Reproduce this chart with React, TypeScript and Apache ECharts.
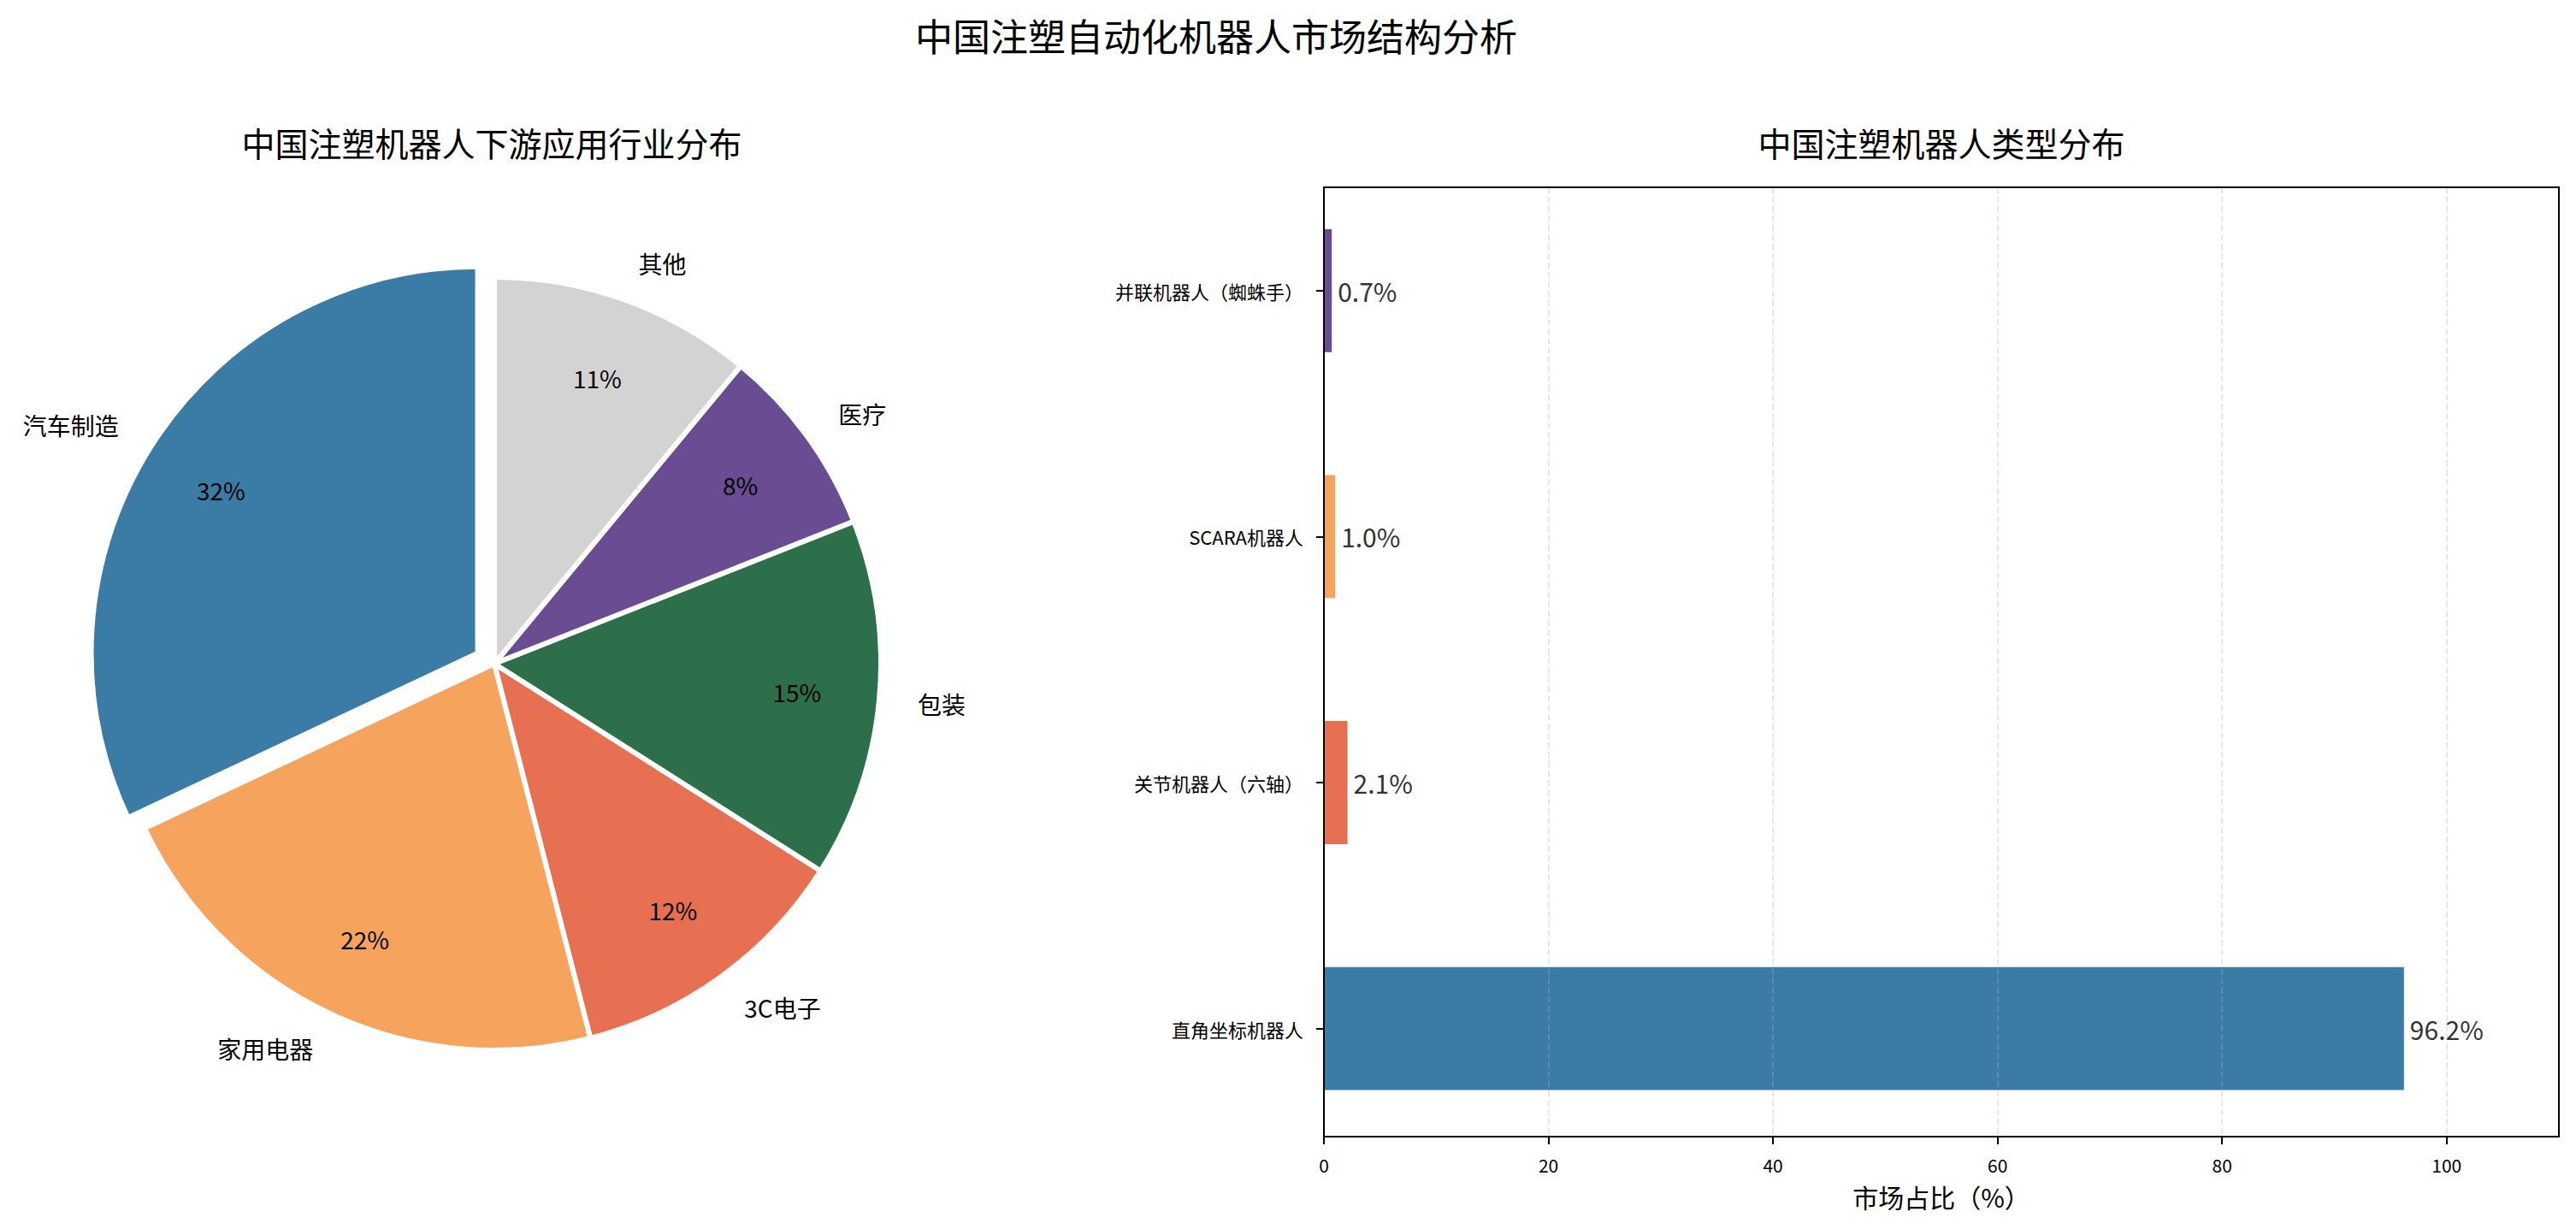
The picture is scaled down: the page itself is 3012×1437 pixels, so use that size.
import * as echarts from 'echarts'
import { useEffect, useRef } from 'react'

const FONT = '"Noto Sans CJK SC", "Noto Sans", sans-serif'

// 左：下游应用行业（%）
const industryNames = ['汽车制造', '家用电器', '3C电子', '包装', '医疗', '其他']
const industryValues = [32, 22, 12, 15, 8, 11]
const industryColors = ['#3B7CA6', '#F6A45D', '#E77052', '#2D6E4B', '#6A4C93', '#D3D3D3']

// 右：机器人类型（%），自下而上
const robotTypes = ['直角坐标机器人', '关节机器人（六轴）', 'SCARA机器人', '并联机器人（蜘蛛手）']
const robotShares = [96.2, 2.1, 1.0, 0.7]
const robotColors = ['#3B7CA6', '#E77052', '#F6A45D', '#6A4C93']

const xTicks = [0, 20, 40, 60, 80, 100]

const PIE_R = 452

export default function App() {
  const ref = useRef<HTMLDivElement>(null)

  useEffect(() => {
    if (!ref.current) return
    document.body.style.margin = '0'
    const chart = echarts.init(ref.current, undefined, { renderer: 'svg' })

    const pieData = industryNames.map((name, i) => ({
      name,
      value: industryValues[i],
      selected: i === 0,
      itemStyle: { color: industryColors[i] },
    }))

    chart.setOption({
      animation: false,
      backgroundColor: '#ffffff',
      textStyle: { fontFamily: FONT },
      graphic: [
        {
          type: 'text',
          x: 1422,
          y: 41,
          style: { text: '中国注塑自动化机器人市场结构分析', fontSize: 44, fontFamily: FONT, fill: '#000', align: 'center', verticalAlign: 'middle' },
        },
        {
          type: 'text',
          x: 575,
          y: 166,
          style: { text: '中国注塑机器人下游应用行业分布', fontSize: 39, fontFamily: FONT, fill: '#000', align: 'center', verticalAlign: 'middle' },
        },
        {
          type: 'text',
          x: 2270,
          y: 166,
          style: { text: '中国注塑机器人类型分布', fontSize: 39, fontFamily: FONT, fill: '#000', align: 'center', verticalAlign: 'middle' },
        },
      ],
      grid: [
        // 类目带宽用（柱子与 y 轴刻度）
        { left: 1548, top: 196, width: 1444, height: 1150.4, show: false },
        // 外框 + x 轴
        { left: 1548, top: 219, width: 1444, height: 1110, show: true, z: 10, borderColor: '#000', borderWidth: 2, backgroundColor: 'transparent' },
      ],
      xAxis: [
        { gridIndex: 0, type: 'value', min: 0, max: 110, show: false },
        {
          gridIndex: 1,
          type: 'value',
          min: 0,
          max: 110,
          interval: 20,
          z: 5,
          axisLine: { show: true, lineStyle: { color: '#000', width: 2 } },
          axisTick: { show: true, length: 9, customValues: xTicks, lineStyle: { color: '#000', width: 2 } },
          axisLabel: { fontSize: 21, color: '#000', margin: 22, customValues: xTicks, fontFamily: FONT },
          splitLine: { show: true, lineStyle: { color: 'rgba(176,176,176,0.3)', width: 2, type: [7.5, 3.5] } },
          name: '市场占比（%）',
          nameLocation: 'middle',
          nameGap: 55,
          nameTextStyle: { fontSize: 30, color: '#000', fontFamily: FONT },
        },
      ],
      yAxis: [
        {
          gridIndex: 0,
          type: 'category',
          data: robotTypes,
          z: 5,
          axisLine: { show: false },
          axisTick: { show: true, alignWithLabel: true, length: 9, lineStyle: { color: '#000', width: 2 } },
          axisLabel: { fontSize: 22, color: '#000', margin: 24, fontFamily: FONT },
          splitLine: { show: false },
        },
        { gridIndex: 1, type: 'value', min: 0, max: 1, show: false },
      ],
      series: [
        {
          type: 'pie',
          center: [578, 776],
          radius: PIE_R,
          startAngle: 90,
          clockwise: false,
          selectedMode: 'single',
          selectedOffset: 23,
          avoidLabelOverlap: false,
          emphasis: { disabled: true },
          itemStyle: { borderColor: '#ffffff', borderWidth: 6 },
          label: {
            show: true,
            position: 'outside',
            fontSize: 28,
            color: '#000',
            fontFamily: FONT,
            distanceToLabelLine: 0,
          },
          labelLine: { show: false, length: PIE_R * 0.1, length2: 0 },
          data: pieData,
        },
        {
          // 百分比标签（约 0.78r 处）
          type: 'pie',
          center: [578, 776],
          radius: [300, 405],
          startAngle: 90,
          clockwise: false,
          silent: true,
          selectedMode: 'single',
          selectedOffset: 23,
          avoidLabelOverlap: false,
          emphasis: { disabled: true },
          itemStyle: { color: 'transparent', borderWidth: 0 },
          label: {
            show: true,
            position: 'inside',
            fontSize: 28,
            color: '#000',
            fontFamily: FONT,
            formatter: (p: { value: number }) => `${p.value}%`,
          },
          labelLine: { show: false },
          data: pieData.map((d) => ({ ...d, itemStyle: { color: 'transparent' } })),
        },
        {
          type: 'bar',
          xAxisIndex: 0,
          yAxisIndex: 0,
          barWidth: 143.8,
          data: robotShares.map((v, i) => ({ value: v, itemStyle: { color: robotColors[i] } })),
          label: {
            show: true,
            position: 'right',
            distance: 7,
            fontSize: 30,
            color: '#333333',
            fontFamily: FONT,
            formatter: (p: { value: number }) => `${p.value.toFixed(1)}%`,
          },
        },
      ],
    })

    return () => {
      chart.dispose()
    }
  }, [])

  return <div ref={ref} style={{ position: 'fixed', left: 0, top: 0, width: 3012, height: 1437 }} />
}
